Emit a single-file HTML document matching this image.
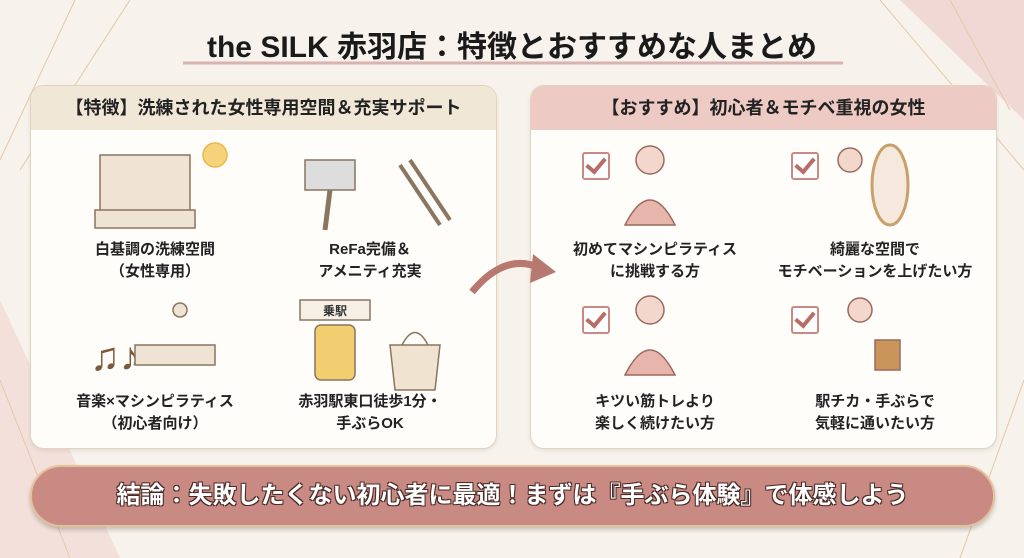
<!DOCTYPE html>
<html><head><meta charset="utf-8"><style>
body{margin:0;width:1024px;height:558px;overflow:hidden;background:#f7f2ec;font-family:"Liberation Sans","Noto Sans CJK JP",sans-serif;position:relative}
.abs{position:absolute}
.title{left:0;width:1024px;top:22px;text-align:center;font-size:30px;font-weight:bold;color:#1a1a1a}
.panel{background:#fffdfa;border:1px solid #e2d3bf;border-radius:14px;box-shadow:0 2px 4px rgba(0,0,0,.08);overflow:hidden}
.hd{height:44px;line-height:44px;text-align:center;font-size:18px;font-weight:bold;color:#222}
.lbl{font-size:15px;font-weight:bold;color:#222;text-align:center;line-height:22px;width:200px}
.chk{width:24px;height:24px;border:2px solid #c98a84;border-radius:3px;background:#fff}
.chk:after{content:"";position:absolute;left:6px;top:0px;width:8px;height:15px;border:solid #b86d66;border-width:0 4px 4px 0;transform:rotate(40deg)}
</style></head><body>
<svg class="abs" style="left:0;top:0" width="1024" height="558">
<polygon points="900,0 1024,0 1024,120" fill="#f0d9d4"/>
<polygon points="0,300 0,558 120,558" fill="#f3e0da"/>
<g stroke="#e2c9a8" stroke-width="1" fill="none">
<line x1="75" y1="0" x2="0" y2="160"/><line x1="130" y1="0" x2="20" y2="170"/>
<line x1="880" y1="0" x2="1024" y2="170"/><line x1="950" y1="0" x2="1010" y2="110"/>
<line x1="0" y1="380" x2="70" y2="558"/><line x1="1024" y1="380" x2="960" y2="558"/>
</g>
<line x1="183" y1="63" x2="843" y2="63" stroke="#d9b3b0" stroke-width="3"/>
</svg>
<div class="abs title">the SILK 赤羽店：特徴とおすすめな人まとめ</div>
<div class="abs panel" style="left:30px;top:85px;width:465px;height:362px">
<div class="hd" style="background:#f1e7d7">【特徴】洗練された女性専用空間＆充実サポート</div></div>
<div class="abs panel" style="left:530px;top:85px;width:465px;height:362px">
<div class="hd" style="background:#edcac4">【おすすめ】初心者＆モチベ重視の女性</div></div>
<svg class="abs" style="left:0;top:0" width="1024" height="558">
<path d="M472,292 Q505,252 540,268" stroke="#b7786f" stroke-width="7" fill="none"/>
<polygon points="533,254 556,272 530,283" fill="#b7786f"/>
</svg>
<!-- left illustrations -->
<svg class="abs" style="left:30px;top:130px" width="465" height="310">
<g fill="#efe3d3" stroke="#8a7560" stroke-width="1.5">
<rect x="70" y="25" width="90" height="70"/><rect x="65" y="80" width="100" height="18"/>
<circle cx="185" cy="25" r="12" fill="#f6d27a" stroke="#e9b84a"/>
<path d="M275,30 h50 v30 h-50z" fill="#ddd"/><path d="M300,60 l-5,40" stroke-width="5"/>
<path d="M370,35 l40,60 M380,30 l40,60" stroke-width="4"/>
<text x="60" y="240" font-size="40" fill="#7a5a3a" stroke="none">♫♪</text>
<rect x="105" y="215" width="80" height="20"/>
<circle cx="150" cy="180" r="7"/>
<rect x="270" y="170" width="70" height="20" fill="#f5efe5"/>
<rect x="285" y="195" width="40" height="55" rx="6" fill="#f3ce70"/>
<path d="M360,215 h50 l-5,45 h-40z" fill="#f0e3cf"/><path d="M372,215 q13,-25 26,0" fill="none"/>
</g>
<text x="305" y="185" font-size="12" text-anchor="middle" fill="#333" font-weight="bold">乗駅</text>
</svg>
<div class="abs lbl" style="left:55px;top:239px">白基調の洗練空間<br>（女性専用）</div>
<div class="abs lbl" style="left:270px;top:239px">ReFa完備＆<br>アメニティ充実</div>
<div class="abs lbl" style="left:55px;top:391px">音楽×マシンピラティス<br>（初心者向け）</div>
<div class="abs lbl" style="left:270px;top:391px">赤羽駅東口徒歩1分・<br>手ぶらOK</div>
<!-- right -->
<svg class="abs" style="left:530px;top:130px" width="465" height="310">
<g fill="#f3d6cc" stroke="#9b6a5c" stroke-width="1.5">
<circle cx="120" cy="30" r="14"/><path d="M95,95 q25,-50 50,0z" fill="#e8b5ac"/>
<circle cx="320" cy="30" r="12"/><ellipse cx="360" cy="55" rx="18" ry="40" fill="#f4e9dc" stroke="#c9a06a" stroke-width="3"/>
<circle cx="120" cy="180" r="14"/><path d="M95,245 q25,-50 50,0z" fill="#e8b5ac"/>
<circle cx="330" cy="180" r="12"/><rect x="345" y="210" width="25" height="30" fill="#c9955a"/>
</g>
</svg>
<div class="abs chk" style="left:582px;top:152px"></div>
<div class="abs chk" style="left:791px;top:152px"></div>
<div class="abs chk" style="left:582px;top:306px"></div>
<div class="abs chk" style="left:791px;top:306px"></div>
<div class="abs lbl" style="left:555px;top:239px;width:200px">初めてマシンピラティス<br>に挑戦する方</div>
<div class="abs lbl" style="left:765px;top:239px;width:220px">綺麗な空間で<br>モチベーションを上げたい方</div>
<div class="abs lbl" style="left:555px;top:391px">キツい筋トレより<br>楽しく続けたい方</div>
<div class="abs lbl" style="left:765px;top:391px;width:220px">駅チカ・手ぶらで<br>気軽に通いたい方</div>
<div class="abs" style="left:30px;top:465px;width:965px;height:62px;border-radius:31px;background:#c98a84;border:2px solid #e2c29a;box-sizing:border-box;box-shadow:0 3px 5px rgba(0,0,0,.2);text-align:center;line-height:58px;font-size:24px;font-weight:bold;color:#fff;text-shadow:-1px -1px 0 #4a2a26,1px -1px 0 #4a2a26,-1px 1px 0 #4a2a26,1px 1px 0 #4a2a26">結論：失敗したくない初心者に最適！まずは『手ぶら体験』で体感しよう</div>
</body></html>
